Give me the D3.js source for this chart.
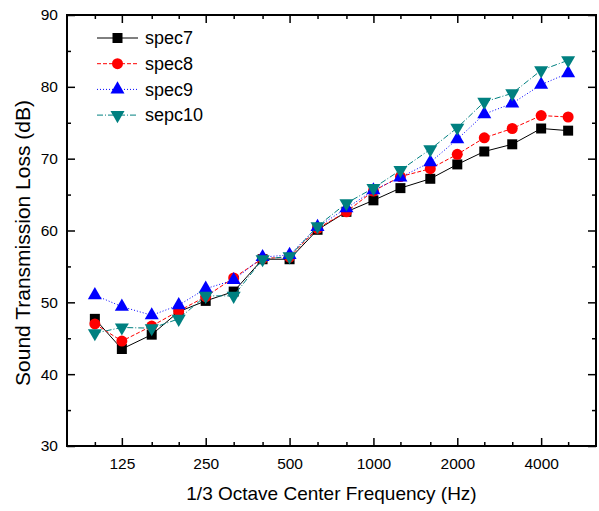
<!DOCTYPE html>
<html>
<head>
<meta charset="utf-8">
<script src="https://cdn.jsdelivr.net/npm/d3@7"></script>
<style>
  body { margin: 0; background: #fff; }
  svg { font-family: Arial, "Liberation Sans", sans-serif; }
</style>
</head>
<body>
<div id="chart"></div>
<script>

var margin = {top: 15, right: 3, bottom: 65, left: 67};

var width  = 599 - margin.left - margin.right,
    height = 511 - margin.top - margin.bottom;

// 1/3 octave band centre frequencies (Hz)
var freqs = [100, 125, 160, 200, 250, 315, 400, 500, 630, 800, 1000, 1250, 1600, 2000, 2500, 3150, 4000, 5000];
var freqLabels = [125, 250, 500, 1000, 2000, 4000];

// transmission loss (dB)
var spec7  = [47.7, 43.5, 45.5, 48.7, 50.2, 51.5, 56.0, 56.0, 60.1, 62.6, 64.2, 65.9, 67.2, 69.2, 71.0, 72.0, 74.2, 73.9];
var spec8  = [47.0, 44.6, 46.7, 48.8, 50.8, 53.4, 56.1, 56.3, 60.3, 62.6, 65.5, 67.5, 68.6, 70.6, 72.9, 74.2, 76.0, 75.8];
var spec9  = [51.0, 49.4, 48.2, 49.6, 51.9, 53.1, 56.3, 56.6, 60.5, 63.1, 65.6, 67.4, 69.5, 72.7, 76.2, 77.7, 80.3, 81.9];
var sepc10 = [45.7, 46.5, 46.4, 47.7, 50.9, 50.9, 56.0, 56.4, 60.6, 63.8, 65.9, 68.4, 71.3, 74.3, 77.9, 79.1, 82.3, 83.7];

var yTicks = [30, 40, 50, 60, 70, 80, 90];

var series = [
  {name: 'spec7',  values: spec7,  color: '#000000', dash: null,        symbol: d3.symbolSquare,   size: 100, rot: 0},
  {name: 'spec8',  values: spec8,  color: '#ff0000', dash: '4,2',       symbol: d3.symbolCircle,   size: 95,  rot: 0},
  {name: 'spec9',  values: spec9,  color: '#0000ff', dash: '1,2',       symbol: d3.symbolTriangle, size: 85,  rot: 0},
  {name: 'sepc10', values: sepc10, color: '#008080', dash: '6,2,1,2',   symbol: d3.symbolTriangle, size: 85,  rot: 180}
];

var step = Math.pow(10, 0.1);
var x = d3.scaleLog()
  .domain([freqs[0] / step, freqs[freqs.length - 1] * step])
  .range([0, width]);

var y = d3.scaleLinear()
  .domain([30, 90])
  .range([height, 0]);

var svg = d3.select('#chart').append('svg')
  .attr('width', width + margin.left + margin.right)
  .attr('height', height + margin.top + margin.bottom);

var g = svg.append('g')
  .attr('transform', 'translate(' + margin.left + ',' + margin.top + ')');

// ---- axes, ticks pointing inward ----
var minorY = d3.range(30, 91, 5);

function styleAxis(sel) {
  sel.select('.domain').remove();
  sel.selectAll('line').attr('stroke', '#000').attr('stroke-width', 1.5);
  sel.selectAll('text').attr('fill', '#000').style('font-size', '15.5px');
}

var xBottom = d3.axisBottom(x).tickValues(freqs)
  .tickSize(-4).tickPadding(12)
  .tickFormat(function(d){ return freqLabels.indexOf(d) >= 0 ? d : ''; });
g.append('g').attr('transform', 'translate(0,' + height + ')').call(xBottom).call(styleAxis)
  .selectAll('.tick line')
  .attr('y2', function(d){ return freqLabels.indexOf(d) >= 0 ? -8 : -4; });

var xTop = d3.axisTop(x).tickValues(freqs).tickSize(-4).tickFormat('');
g.append('g').call(xTop).call(styleAxis)
  .selectAll('.tick line')
  .attr('y2', function(d){ return freqLabels.indexOf(d) >= 0 ? 8 : 4; });

var yLeft = d3.axisLeft(y).tickValues(minorY).tickSize(-4).tickPadding(9)
  .tickFormat(function(d){ return d % 10 === 0 ? d : ''; });
g.append('g').call(yLeft).call(styleAxis)
  .selectAll('.tick line')
  .attr('x2', function(d){ return d % 10 === 0 ? 8 : 4; });

var yRight = d3.axisRight(y).tickValues(minorY).tickSize(-4).tickFormat('');
g.append('g').attr('transform', 'translate(' + width + ',0)').call(yRight).call(styleAxis)
  .selectAll('.tick line')
  .attr('x2', function(d){ return d % 10 === 0 ? -8 : -4; });

// frame
g.append('rect')
  .attr('width', width).attr('height', height)
  .attr('fill', 'none').attr('stroke', '#000').attr('stroke-width', 2);

// ---- series ----
var line = d3.line()
  .x(function(d, i){ return x(freqs[i]); })
  .y(function(d){ return y(d); });

series.forEach(function(s){
  g.append('path')
    .datum(s.values)
    .attr('d', line)
    .attr('fill', 'none')
    .attr('stroke', s.color)
    .attr('stroke-width', 1)
    .attr('stroke-dasharray', s.dash);

  g.selectAll('.m-' + s.name)
    .data(s.values)
    .enter().append('path')
    .attr('class', 'm-' + s.name)
    .attr('d', d3.symbol().type(s.symbol).size(s.size))
    .attr('transform', function(d, i){
      return 'translate(' + x(freqs[i]) + ',' + y(d) + ') rotate(' + s.rot + ')';
    })
    .attr('fill', s.color);
});

// ---- legend ----
var legend = g.append('g').attr('transform', 'translate(30,23)');
series.forEach(function(s, i){
  var row = legend.append('g').attr('transform', 'translate(0,' + (i * 25.7) + ')');
  row.append('line')
    .attr('x1', 0).attr('x2', 41)
    .attr('stroke', s.color).attr('stroke-width', 1)
    .attr('stroke-dasharray', s.dash);
  row.append('path')
    .attr('d', d3.symbol().type(s.symbol).size(s.size))
    .attr('transform', 'translate(20.5,0) rotate(' + s.rot + ')')
    .attr('fill', s.color);
  row.append('text')
    .attr('x', 48).attr('dy', '0.35em')
    .style('font-size', '18px')
    .text(s.name);
});

// ---- axis titles ----
svg.append('text')
  .attr('x', margin.left + width / 2).attr('y', 500)
  .attr('text-anchor', 'middle')
  .style('font-size', '19px')
  .text('1/3 Octave Center Frequency (Hz)');

svg.append('text')
  .attr('transform', 'translate(30,243) rotate(-90)')
  .attr('text-anchor', 'middle')
  .style('font-size', '21px')
  .text('Sound Transmission Loss (dB)');

</script>
</body>
</html>
